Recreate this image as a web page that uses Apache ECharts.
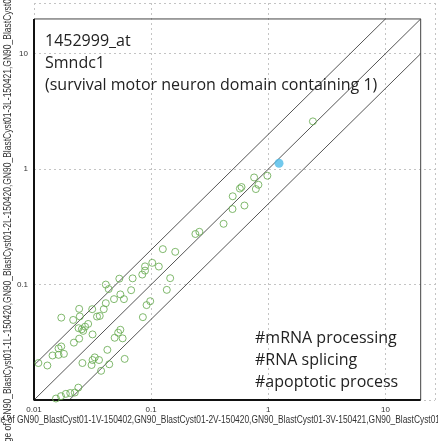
<!DOCTYPE html>
<html>
<head>
<meta charset="utf-8">
<script src="https://cdn.jsdelivr.net/npm/echarts@6/dist/echarts.min.js"></script>
<style>
html,body{margin:0;padding:0;background:#fff;}
#chart{width:438px;height:441px;}
</style>
</head>
<body>
<div id="chart"></div>
<script>
// ---- data ----
const probeTitle = ['1452999_at', 'Smndc1', '(survival motor neuron domain containing 1)'];
const goTerms = ['#mRNA processing', '#RNA splicing', '#apoptotic process'];
const xAxisTitle = ['Average of ', 'GN90_BlastCyst01-1V-150402,GN90_BlastCyst01-2V-150420,GN90_BlastCyst01-3V-150421,GN90_BlastCyst01a'];
const yAxisTitle = ['Average of ', 'GN90_BlastCyst01-1L-150420,GN90_BlastCyst01-2L-150420,GN90_BlastCyst01-3L-150421,GN90_BlastCyst01'];
const tickValues = [0.01, 0.1, 1, 10];
const tickLabels = ['0.01', '0.1', '1', '10'];
const axisMinX = 0.01, axisMaxX = 26.5;
const axisMinY = 0.01, axisMaxY = 27.5;
const frameMax = 20;

// other probes (x = V average, y = L average)
const otherX = [0.0109,0.0130,0.0144,0.0162,0.0180,0.0162,0.0171,0.0171,0.0216,0.0243,
  0.0246,0.0219,0.0243,0.0240,0.0256,0.0273,0.0290,0.0263,0.0314,0.0316,
  0.0345,0.0364,0.0394,0.0410,0.0410,0.0434,0.0482,0.0535,0.0546,0.0586,
  0.0675,0.0695,0.0840,0.0887,0.0887,0.1022,0.1163,0.1258,0.1606,0.1454,
  0.1360,0.0982,0.0914,0.0850,0.0488,0.0523,0.0546,0.0571,0.0594,0.0423,
  0.0310,0.0316,0.0330,0.0359,0.0439,0.0374,0.0259,0.2386,0.2580,0.4152,
  2.404,0.982,0.757,0.824,0.783,0.591,0.572,0.497,0.626,0.495,
  0.0154,0.0170,0.0187,0.0204,0.0223,0.0239];
const otherY = [0.0209,0.0199,0.0243,0.0246,0.0251,0.0280,0.0291,0.0517,0.0494,0.0616,
  0.0530,0.0314,0.0340,0.0419,0.0410,0.0432,0.0456,0.0397,0.0612,0.0370,
  0.0528,0.0535,0.0612,0.0690,0.1000,0.0914,0.0748,0.1125,0.0822,0.0748,
  0.0894,0.1132,0.1221,0.1438,0.1320,0.1543,0.1433,0.2028,0.1921,0.1136,
  0.0900,0.0718,0.0664,0.0522,0.0346,0.0383,0.0406,0.0342,0.0227,0.0272,
  0.0201,0.0222,0.0234,0.0222,0.0204,0.0179,0.0209,0.2742,0.2865,0.3361,
  2.593,0.877,0.847,0.732,0.672,0.700,0.679,0.582,0.484,0.451,
  0.0103,0.0108,0.0113,0.0115,0.0116,0.0128];
// highlighted probe
const targetX = [1.235];
const targetY = [1.125];

// reference lines: y = x, y = 2x, y = x/2
const diagEqual = [[0.01, 0.01], [20, 20]];
const diagUp = [[0.01, 0.02], [10, 20]];
const diagDown = [[0.02, 0.01], [20, 10]];
const frameLB = [[0.01, frameMax], [0.01, 0.01], [frameMax, 0.01]];
const frameTR = [[0.01, frameMax], [frameMax, frameMax], [frameMax, 0.01]];

// ---- chart ----
const chart = echarts.init(document.getElementById('chart'), null, {renderer: 'canvas'});
function labelFor(v, hideMin) {
  for (let i = 0; i < tickValues.length; i++) {
    if (Math.abs(Math.log10(v) - Math.log10(tickValues[i])) < 1e-6) {
      if (hideMin && i === 0) return '';
      return tickLabels[i];
    }
  }
  return '';
}
const gridLine = {show: true, lineStyle: {color: '#c4c4c4', width: 1, type: [2, 3]}};
const labelFont = {fontSize: 8, color: '#333', fontFamily: '"Liberation Sans Narrow", "Liberation Sans", sans-serif'};

const lineSeries = (data, color, width) => ({
  type: 'line', data: data, symbol: 'none', silent: true, animation: false,
  lineStyle: {color: color, width: width}, z: 1
});

chart.setOption({
  animation: false,
  backgroundColor: '#fff',
  grid: {left: 34, right: 3, top: 3, bottom: 41},
  xAxis: {
    type: 'log', logBase: 10, min: axisMinX, max: axisMaxX,
    axisLine: {show: false}, axisTick: {show: false},
    axisLabel: Object.assign({margin: 6, formatter: v => labelFor(v, false), showMaxLabel: true, showMinLabel: true}, labelFont),
    splitLine: gridLine, minorSplitLine: {show: false}
  },
  yAxis: {
    type: 'log', logBase: 10, min: axisMinY, max: axisMaxY,
    axisLine: {show: false}, axisTick: {show: false},
    axisLabel: Object.assign({margin: 6, formatter: v => labelFor(v, true)}, labelFont),
    splitLine: gridLine, minorSplitLine: {show: false}
  },
  series: [
    lineSeries(diagEqual, '#555', 1),
    lineSeries(diagUp, '#555', 1),
    lineSeries(diagDown, '#555', 1),
    lineSeries(frameTR, '#444', 1),
    lineSeries(frameLB, '#111', 2),
    {
      type: 'scatter', z: 3,
      data: otherX.map((x, i) => [x, otherY[i]]),
      symbol: 'circle', symbolSize: 7,
      itemStyle: {color: 'rgba(0,0,0,0)', borderColor: '#62a74a', borderWidth: 1}
    },
    {
      type: 'scatter', z: 4,
      data: targetX.map((x, i) => [x, targetY[i]]),
      symbol: 'circle', symbolSize: 9,
      itemStyle: {color: '#4fbbe8', borderColor: '#4fbbe8', borderWidth: 0}
    }
  ],
  graphic: [
    {type: 'text', left: 45, top: 30, z: 10, style: {text: probeTitle.join('\n'), font: '16px "Open Sans"', lineHeight: 22, fill: '#222'}},
    {type: 'text', left: 255, top: 327, z: 10, style: {text: goTerms.join('\n'), font: '16px "Open Sans"', lineHeight: 22, fill: '#222'}},
    {type: 'text', x: 17, y: 420, scaleX: 0.84, z: 10, style: {text: xAxisTitle[0], font: '10px "Liberation Sans"', fill: '#333', align: 'right', verticalAlign: 'middle'}},
    {type: 'text', x: 17, y: 420, scaleX: 0.84, z: 10, style: {text: xAxisTitle[1], font: '10px "Liberation Sans"', fill: '#333', align: 'left', verticalAlign: 'middle'}},
    {type: 'text', x: 8, y: 421, rotation: Math.PI / 2, scaleX: 0.85, z: 10, style: {text: yAxisTitle[0], font: '10px "Liberation Sans"', fill: '#333', align: 'right', verticalAlign: 'middle'}},
    {type: 'text', x: 8, y: 421, rotation: Math.PI / 2, scaleX: 0.85, z: 10, style: {text: yAxisTitle[1], font: '10px "Liberation Sans"', fill: '#333', align: 'left', verticalAlign: 'middle'}}
  ]
});
</script>
</body>
</html>
